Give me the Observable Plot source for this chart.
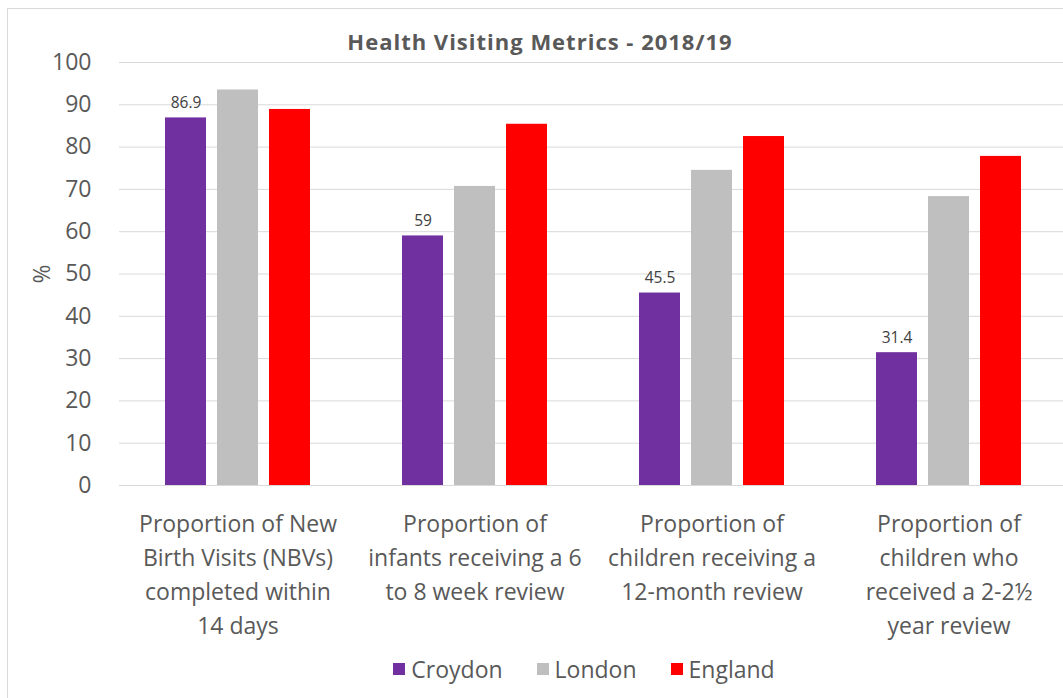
<!DOCTYPE html>
<html><head><meta charset="utf-8">
<script src="https://cdn.jsdelivr.net/npm/d3@7"></script>
<script src="https://cdn.jsdelivr.net/npm/@observablehq/plot@0.6"></script>
<style>
body{margin:0;background:#fff;font-family:"Open Sans", sans-serif;}
#frame{position:absolute;left:7px;top:8px;width:1070px;height:700px;border:1px solid #d9d9d9;box-sizing:border-box;}
#title{position:absolute;left:0;width:1080px;top:26px;text-align:center;font-weight:bold;font-size:22px;letter-spacing:1px;color:#595959;}
#chart{position:absolute;left:0;top:0;}
#legend{position:absolute;top:653px;left:0;width:1168px;display:flex;justify-content:center;gap:34px;font-size:23px;color:#595959;}
#legend span.item{display:inline-flex;align-items:center;gap:6px;}
#legend span.sw{display:inline-block;width:12px;height:12px;}
</style></head>
<body>
<div id="frame"></div>
<div id="title">Health Visiting Metrics - 2018/19</div>
<div id="chart"></div>
<div id="legend"></div>
<script>
const categories = [
  "Proportion of New Birth Visits (NBVs) completed within 14 days",
  "Proportion of infants receiving a 6 to 8 week review",
  "Proportion of children receiving a 12-month review",
  "Proportion of children who received a 2-2½ year review"
];
const tickLabels = [
  "Proportion of New\nBirth Visits (NBVs)\ncompleted within\n14 days",
  "Proportion of\ninfants receiving a 6\nto 8 week review",
  "Proportion of\nchildren receiving a\n12-month review",
  "Proportion of\nchildren who\nreceived a 2-2½\nyear review"
];
const series = ["Croydon", "London", "England"];
const croydon = [86.9, 59, 45.5, 31.4];
const london = [93.5, 70.7, 74.5, 68.3];
const england = [88.9, 85.4, 82.5, 77.8];
const colors = ["#7030A0", "#BFBFBF", "#FF0000"];
const yTicks = [0, 10, 20, 30, 40, 50, 60, 70, 80, 90, 100];

const values = {Croydon: croydon, London: london, England: england};
const data = categories.flatMap((c, i) => series.map(s => ({category: c, series: s, value: values[s][i]})));

const chart = Plot.plot({
  width: 1063,
  height: 665,
  marginTop: 62,
  marginBottom: 180,
  marginLeft: 118,
  marginRight: 0,
  style: {fontFamily: "'Open Sans', sans-serif", color: "#595959", background: "transparent"},
  fx: {domain: categories, range: [118, 1068], padding: 0},
  x: {domain: series, paddingInner: 0.2075, paddingOuter: 0.84, axis: null},
  y: {domain: [0, 100]},
  color: {domain: series, range: colors},
  marks: [
    Plot.gridY(yTicks, {stroke: "#d9d9d9", strokeOpacity: 1}),
    Plot.axisY({ticks: yTicks, tickSize: 0, tickPadding: 28, fontSize: 23, fill: "#595959",
      label: "%", labelAnchor: "center", labelOffset: 86, labelArrow: false}),
    Plot.axisFx({anchor: "bottom", tickSize: 0, tickPadding: 22, fontSize: 23, lineHeight: 1.48,
      fill: "#595959", label: null, tickFormat: d => tickLabels[categories.indexOf(d)]}),
    Plot.barY(data, {fx: "category", x: "series", y: "value", fill: "series"}),
    Plot.text(data.filter(d => d.series === "Croydon"), {fx: "category", x: "series", y: "value",
      text: d => String(d.value), dy: -15, fontSize: 15.5, fill: "#404040"})
  ]
});
document.getElementById("chart").appendChild(chart);

const legend = document.getElementById("legend");
series.forEach((s, i) => {
  const item = document.createElement("span");
  item.className = "item";
  const sw = document.createElement("span");
  sw.className = "sw";
  sw.style.background = colors[i];
  item.appendChild(sw);
  item.appendChild(document.createTextNode(s));
  legend.appendChild(item);
});
</script>
</body></html>
